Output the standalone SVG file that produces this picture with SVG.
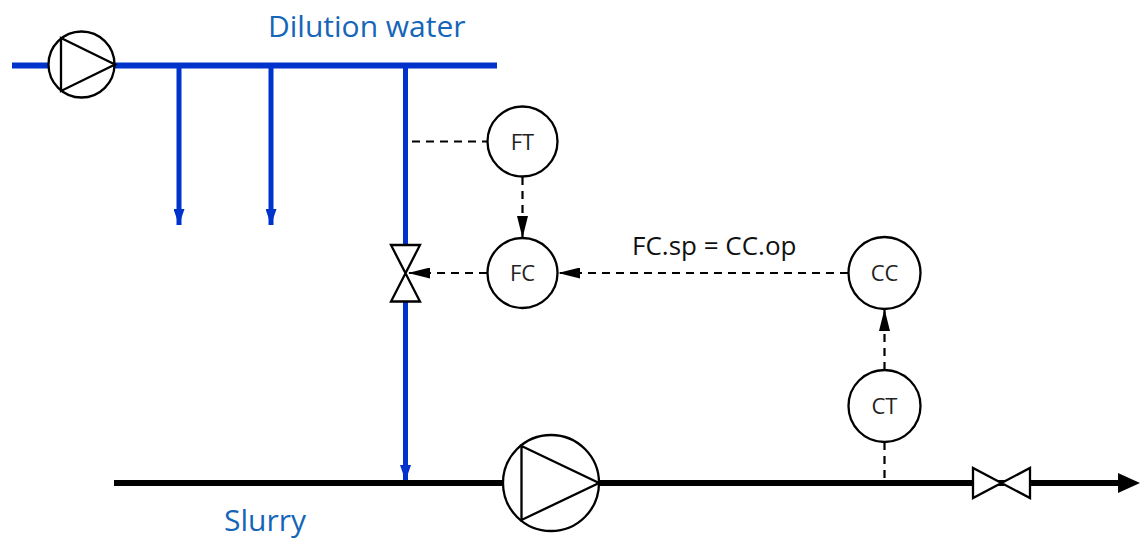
<svg xmlns="http://www.w3.org/2000/svg" width="1140" height="538" viewBox="0 0 1140 538">
<style>
.water{stroke:#0033CC;fill:none}
.slurry{stroke:#000;fill:none;stroke-width:6}
.sym{stroke:#000;stroke-width:2.3;fill:#fff}
.sig{stroke:#000;stroke-width:2.2;fill:none;stroke-dasharray:8,6}
.lbl{font-family:"Open Sans","Noto Sans",sans-serif;fill:#1565B8}
.tag{font-family:"Open Sans","Noto Sans",sans-serif;font-size:22px;fill:#222;text-anchor:middle}
</style>
<defs>
<marker id="ab" viewBox="0 0 16 11" refX="16" refY="5.5" markerWidth="16" markerHeight="11" markerUnits="userSpaceOnUse" orient="auto">
<path d="M0,0 L16,5.5 L0,11 Z" fill="#0033CC"/>
</marker>
<marker id="ak" viewBox="0 0 22 11" refX="22" refY="5.5" markerWidth="22" markerHeight="11" markerUnits="userSpaceOnUse" orient="auto">
<path d="M0,0 L22,5.5 L0,11 Z" fill="#000"/>
</marker>
</defs>
<g id="connectors">
<line class="water" x1="12" y1="65.5" x2="497" y2="65.5" stroke-width="6"/>
<line class="water" x1="179" y1="65" x2="179" y2="225" stroke-width="5" marker-end="url(#ab)"/>
<line class="water" x1="271" y1="65" x2="271" y2="225" stroke-width="5" marker-end="url(#ab)"/>
<line class="water" x1="405.5" y1="65" x2="405.5" y2="250" stroke-width="5"/>
<line class="water" x1="405.5" y1="296" x2="405.5" y2="481" stroke-width="5" marker-end="url(#ab)"/>
<line class="slurry" x1="114" y1="483" x2="1122" y2="483"/>
<path d="M1118,473 L1140,483 L1118,493 Z" fill="#000"/>
<line class="sig" x1="412" y1="141.5" x2="487" y2="141.5"/>
<line class="sig" x1="522.5" y1="177" x2="522.5" y2="238" marker-end="url(#ak)"/>
<line class="sig" x1="487" y1="273" x2="408" y2="273" marker-end="url(#ak)"/>
<line class="sig" x1="848" y1="273" x2="558" y2="273" marker-end="url(#ak)"/>
<line class="sig" x1="884.5" y1="370" x2="884.5" y2="309" marker-end="url(#ak)"/>
<line class="sig" x1="884.5" y1="442" x2="884.5" y2="481"/>
</g>
<g id="pump-small">
<circle class="sym" cx="81.5" cy="64.5" r="33"/>
<path class="sym" d="M61,38 L115,64.5 L61,91 Z"/>
</g>
<g id="pump-main">
<circle class="sym" cx="551" cy="483" r="48"/>
<path class="sym" d="M521.5,446 L599,483 L521.5,520 Z"/>
</g>
<g id="valve-control">
<path class="sym" d="M391,245 L420,245 L391,301.5 L420,301.5 Z"/>
</g>
<g id="valve-outlet">
<path class="sym" d="M973,468 L973,498 L1030,468 L1030,498 Z"/>
</g>
<g id="FT">
<circle class="sym" cx="522.5" cy="141.5" r="35"/>
<text class="tag" x="522.5" y="149.5">FT</text>
</g>
<g id="FC">
<circle class="sym" cx="522.5" cy="273" r="35"/>
<text class="tag" x="522.5" y="281">FC</text>
</g>
<g id="CC">
<circle class="sym" cx="884.5" cy="273" r="36"/>
<text class="tag" x="884.5" y="281">CC</text>
</g>
<g id="CT">
<circle class="sym" cx="884.5" cy="406" r="36"/>
<text class="tag" x="884.5" y="414">CT</text>
</g>
<g id="labels">
<text class="lbl" x="268" y="37" font-size="30">Dilution water</text>
<text class="lbl" x="224" y="531" font-size="30">Slurry</text>
<text x="632" y="255" font-family="Open Sans, Noto Sans, sans-serif" font-size="26" fill="#111">FC.sp = CC.op</text>
</g>
</svg>
